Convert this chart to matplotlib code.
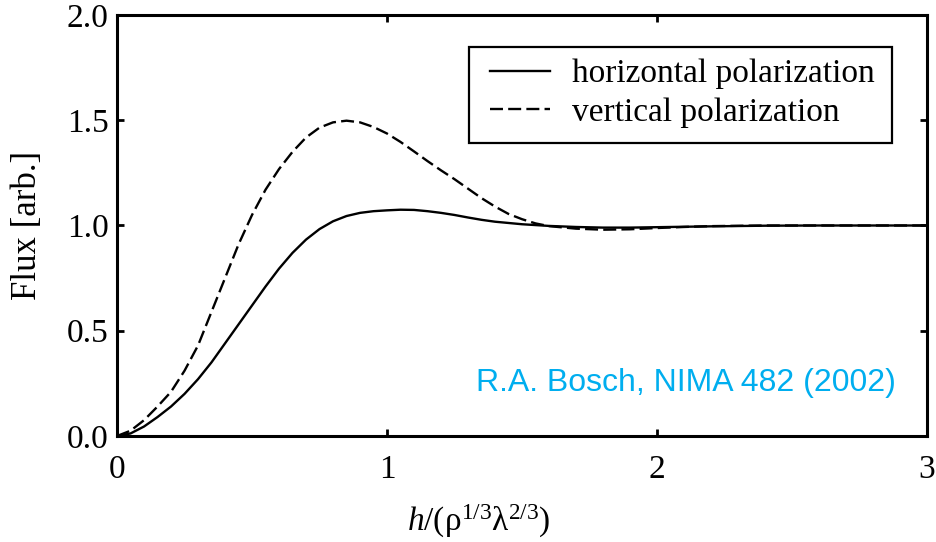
import matplotlib
matplotlib.use("Agg")
import matplotlib.pyplot as plt
from matplotlib.patches import Rectangle
import numpy as np

plt.rcParams['font.family'] = 'Liberation Serif'
plt.rcParams['mathtext.fontset'] = 'custom'
plt.rcParams['mathtext.rm'] = 'Liberation Serif'
plt.rcParams['mathtext.it'] = 'Liberation Serif:italic'

# flux vs scaled height, read from Bosch NIMA 482 (2002)
h = [0.0, 0.05, 0.1, 0.15, 0.2, 0.25, 0.3, 0.35, 0.4, 0.45,
     0.5, 0.55, 0.6, 0.65, 0.7, 0.75, 0.8, 0.85, 0.9, 0.95,
     1.0, 1.05, 1.1, 1.15, 1.2, 1.25, 1.3, 1.35, 1.4, 1.45,
     1.5, 1.55, 1.6, 1.7, 1.8, 1.9, 2.0, 2.1, 2.2, 2.4, 2.6, 3.0]
flux_horiz = [0.0, 0.012, 0.045, 0.09, 0.14, 0.2, 0.27, 0.35, 0.44, 0.53,
              0.62, 0.71, 0.795, 0.87, 0.933, 0.983, 1.02, 1.045, 1.06, 1.068,
              1.072, 1.075, 1.074, 1.068, 1.06, 1.05, 1.038, 1.027, 1.018, 1.012,
              1.006, 1.002, 0.998, 0.993, 0.99, 0.99, 0.992, 0.994, 0.996, 0.999, 1.0, 1.0]
flux_vert = [0.0, 0.025, 0.075, 0.14, 0.21, 0.31, 0.43, 0.59, 0.75, 0.91,
             1.05, 1.17, 1.268, 1.35, 1.418, 1.465, 1.49, 1.498, 1.49, 1.468,
             1.437, 1.397, 1.352, 1.306, 1.262, 1.22, 1.175, 1.13, 1.09, 1.055,
             1.03, 1.01, 0.997, 0.985, 0.98, 0.982, 0.988, 0.993, 0.997, 1.0, 1.0, 1.0]
labels = ["horizontal polarization", "vertical polarization"]
xticks = [0, 1, 2, 3]
yticks = [0.0, 0.5, 1.0, 1.5, 2.0]

fig = plt.figure(figsize=(9.37, 5.42), dpi=100)
ax = fig.add_axes([0.1249, 0.1956, 0.8644, 0.7767])

ax.plot(h, flux_horiz, color='black', lw=1.7, label=labels[0])
ax.plot(h, flux_vert, color='black', lw=1.7, dashes=(5.5, 2.2), label=labels[1])

ax.set_xlim(0, 3)
ax.set_ylim(0, 2)
ax.set_xticks(xticks)
ax.set_xticklabels([str(t) for t in xticks])
ax.set_yticks(yticks)
ax.set_yticklabels(["%.1f" % t for t in yticks])
ax.tick_params(direction='in', length=5, width=2, top=True, right=True,
               labelsize=24)
ax.tick_params(axis='x', pad=13)
ax.tick_params(axis='y', pad=6)
for s in ax.spines.values():
    s.set_linewidth(2.2)

ax.set_ylabel("Flux [arb.]", fontsize=25)
ax.yaxis.set_label_coords(-0.09, 0.5)
ax.set_xlabel(r"$\mathit{h}/(\mathrm{\rho}^{1/3}\mathrm{\lambda}^{2/3})$", fontsize=24)
ax.xaxis.set_label_coords(0.446, -0.158)

# legend box drawn separately so the side padding can be wider than the top/bottom
ax.add_patch(Rectangle((0.4346, 0.696), 0.5222, 0.228, transform=ax.transAxes,
                       fill=True, facecolor='white', edgecolor='black', lw=1.6, zorder=4))
leg = ax.legend(loc='upper left', bbox_to_anchor=(0.4605, 0.896), fontsize=24,
                frameon=False, handlelength=1.8, handletextpad=0.65,
                borderpad=0, labelspacing=0.25, borderaxespad=0)
leg.set_zorder(5)

ax.text(0.962, 0.125, "R.A. Bosch, NIMA 482 (2002)", transform=ax.transAxes,
        ha='right', va='center', fontsize=23, color='#00AEEF', family='Liberation Sans')

fig.savefig("out.png", dpi=100)
